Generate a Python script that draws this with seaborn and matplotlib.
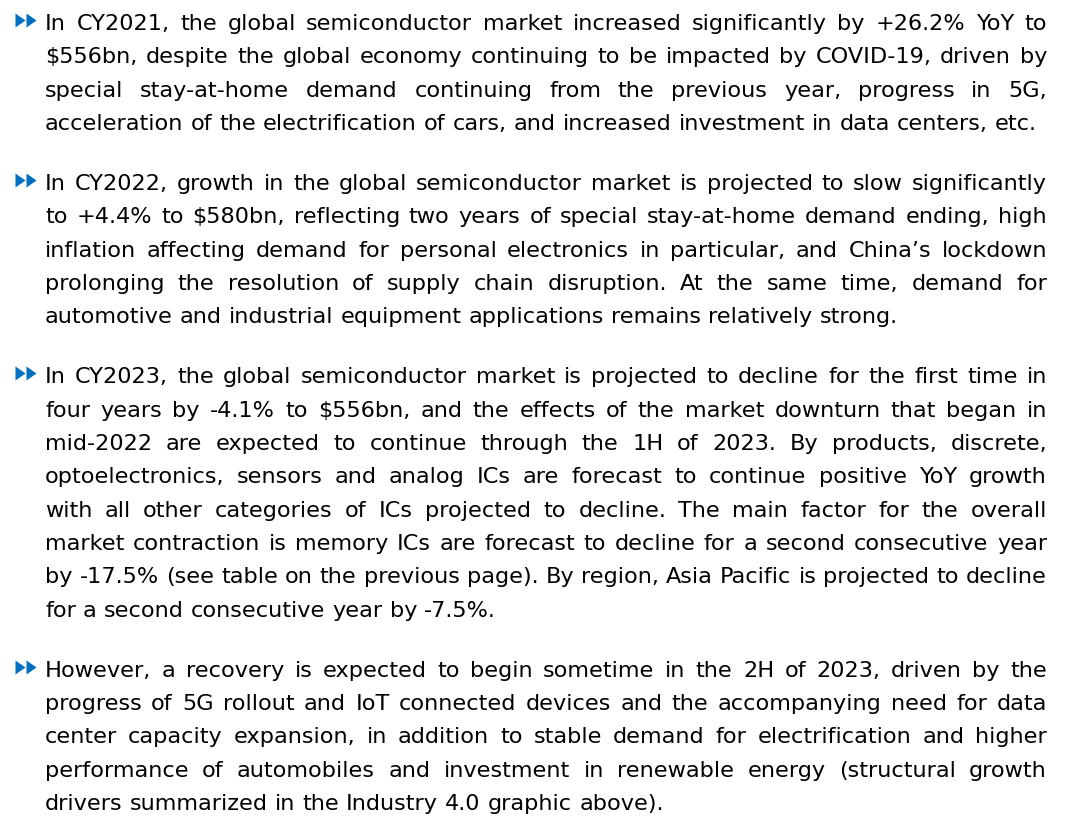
import matplotlib
matplotlib.use("Agg")
import matplotlib.pyplot as plt
import seaborn as sns

# ---- text content, one list per bullet, line breaks as in the source page ----
PARA_CY2021 = [
    "In CY2021, the global semiconductor market increased significantly by +26.2% YoY to",
    "$556bn, despite the global economy continuing to be impacted by COVID-19, driven by",
    "special stay-at-home demand continuing from the previous year, progress in 5G,",
    "acceleration of the electrification of cars, and increased investment in data centers, etc.",
]
PARA_CY2022 = [
    "In CY2022, growth in the global semiconductor market is projected to slow significantly",
    "to +4.4% to $580bn, reflecting two years of special stay-at-home demand ending, high",
    "inflation affecting demand for personal electronics in particular, and China\u2019s lockdown",
    "prolonging the resolution of supply chain disruption. At the same time, demand for",
    "automotive and industrial equipment applications remains relatively strong.",
]
PARA_CY2023 = [
    "In CY2023, the global semiconductor market is projected to decline for the first time in",
    "four years by -4.1% to $556bn, and the effects of the market downturn that began in",
    "mid-2022 are expected to continue through the 1H of 2023. By products, discrete,",
    "optoelectronics, sensors and analog ICs are forecast to continue positive YoY growth",
    "with all other categories of ICs projected to decline. The main factor for the overall",
    "market contraction is memory ICs are forecast to decline for a second consecutive year",
    "by -17.5% (see table on the previous page). By region, Asia Pacific is projected to decline",
    "for a second consecutive year by -7.5%.",
]
PARA_RECOVERY = [
    "However, a recovery is expected to begin sometime in the 2H of 2023, driven by the",
    "progress of 5G rollout and IoT connected devices and the accompanying need for data",
    "center capacity expansion, in addition to stable demand for electrification and higher",
    "performance of automobiles and investment in renewable energy (structural growth",
    "drivers summarized in the Industry 4.0 graphic above).",
]
PARAGRAPHS = [PARA_CY2021, PARA_CY2022, PARA_CY2023, PARA_RECOVERY]

# ---- page layout (pixels) ----
W, H, DPI = 1066, 816, 100
LEFT, RIGHT = 45, 1047
LAST_LINE_ENDS = [1040, 903, 492, 660]   # where each ragged last line stops
FIRST_BASELINE = 30
LINE_STEP = 33.33
PARA_GAP = 26.67
BASE_PX = 22.0
TEXT_COLOR = "#000000"
BULLET_COLOR = "#0070C0"
BULLET_X = [20, 31]
ARROW = [(-1, -1.4), (1, 0), (-1, 1.4), (-1, -1.4)]


def main():
    sns.set_theme(style="white")
    plt.rcParams["font.family"] = ["DejaVu Sans"]

    fig = plt.figure(figsize=(W / DPI, H / DPI), dpi=DPI)
    ax = fig.add_axes([0, 0, 1, 1])
    ax.set_xlim(0, W)
    ax.set_ylim(H, 0)
    ax.axis("off")
    renderer = fig.canvas.get_renderer()

    def width(s, fs):
        t = ax.text(0, 0, s.replace("$", r"\$"), fontsize=fs)
        w = t.get_window_extent(renderer).width
        t.remove()
        return w

    # size the font so the ragged last lines come out as long as on the page
    base_fs = BASE_PX * 72 / DPI
    natural = sum(width(p[-1], base_fs) for p in PARAGRAPHS)
    target = sum(e - LEFT for e in LAST_LINE_ENDS)
    fs = base_fs * target / natural

    space = width("a a", fs) - width("aa", fs)

    y = FIRST_BASELINE
    for lines in PARAGRAPHS:
        ax.plot(BULLET_X, [y - 10] * 2, linestyle="none", marker=ARROW,
                ms=10.1, color=BULLET_COLOR, mec="none")
        for i, line in enumerate(lines):
            words = line.split()
            widths = [width(w, fs) for w in words]
            last = i == len(lines) - 1
            if last or len(words) < 2:
                gap = space
            else:
                gap = (RIGHT - LEFT - sum(widths)) / (len(words) - 1)
            x = LEFT
            for w, wd in zip(words, widths):
                ax.text(x, y, w.replace("$", r"\$"), fontsize=fs,
                        color=TEXT_COLOR, va="baseline")
                x += wd + gap
            if not last:
                y += LINE_STEP
        y += LINE_STEP + PARA_GAP

    fig.savefig("out.png", dpi=DPI)


if __name__ == "__main__":
    main()
